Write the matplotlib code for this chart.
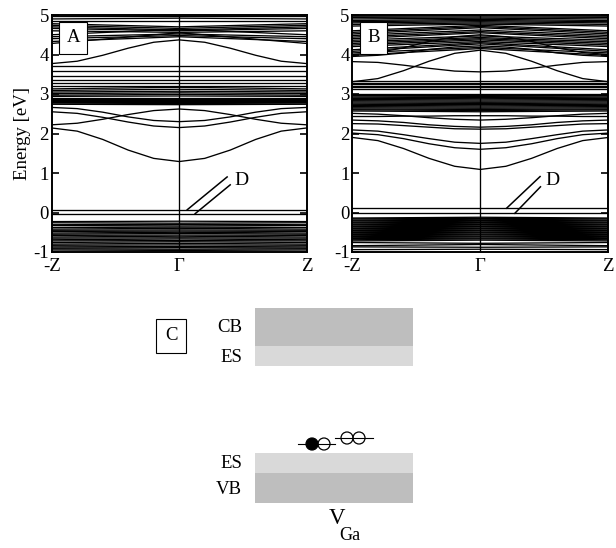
import matplotlib
matplotlib.use("Agg")
import matplotlib.pyplot as plt
from matplotlib.patches import Rectangle, Circle
import numpy as np

plt.rcParams['font.family'] = ['Liberation Serif', 'DejaVu Serif']
plt.rcParams['mathtext.fontset'] = 'stix'

# ---------------- data ----------------
K_FINE = [0.0, 0.2, 0.4, 0.6, 0.8, 1.0]     # |k| from Gamma to Z
K_LABELS = ['-Z', 'Γ', 'Z']
Y_TICKS = [-1, 0, 1, 2, 3, 4, 5]

# Panel A dispersive bands (values at K_FINE)
A_disp = [
    [1.29, 1.37, 1.58, 1.85, 2.06, 2.14],
    [2.62, 2.58, 2.48, 2.36, 2.26, 2.22],
    [2.30, 2.33, 2.42, 2.54, 2.63, 2.66],
    [2.15, 2.19, 2.29, 2.41, 2.51, 2.55],
    [4.37, 4.31, 4.16, 3.98, 3.83, 3.77],
]
# Panel A bundled bands: energy at Gamma / at Z
A_gam = [4.97, 4.92, 4.84, 4.70, 4.66, 4.62, 4.60, 4.56, 4.52, 4.48, 4.45, 4.55, 4.64,
         3.71, 3.57, 3.45, 3.36, 3.28, 3.20,
         3.17, 3.12, 3.07, 3.03, 2.99, 2.95, 2.91, 2.88, 2.85, 2.82, 2.79, 2.76, 2.73,
         0.07, -0.03,
         -0.22, -0.27, -0.30, -0.34, -0.37, -0.40, -0.44, -0.47, -0.50, -0.53, -0.57,
         -0.60, -0.64, -0.67, -0.71, -0.74, -0.78, -0.82, -0.86, -0.89, -0.93, -0.96]
A_z = [4.97, 4.90, 4.84, 4.78, 4.74, 4.70, 4.66, 4.60, 4.45, 4.40, 4.33, 4.28, 4.50,
       3.71, 3.57, 3.45, 3.36, 3.28, 3.20,
       3.13, 3.09, 3.05, 3.01, 2.97, 2.94, 2.91, 2.88, 2.85, 2.82, 2.79, 2.77, 2.74,
       0.07, -0.03,
       -0.23, -0.26, -0.31, -0.33, -0.38, -0.42, -0.45, -0.48, -0.52, -0.55, -0.58,
       -0.62, -0.65, -0.69, -0.72, -0.76, -0.80, -0.83, -0.87, -0.90, -0.92, -0.95]

# Panel B dispersive bands
B_disp = [
    [1.09, 1.17, 1.37, 1.62, 1.82, 1.90],
    [1.60, 1.64, 1.74, 1.87, 1.97, 2.01],
    [1.75, 1.78, 1.87, 1.97, 2.06, 2.09],
    [2.11, 2.12, 2.16, 2.20, 2.24, 2.25],
    [2.16, 2.18, 2.22, 2.28, 2.32, 2.34],
    [2.34, 2.36, 2.40, 2.45, 2.49, 2.51],
    [2.45, 2.45, 2.44, 2.44, 2.43, 2.43],
    [4.11, 4.03, 3.83, 3.59, 3.39, 3.31],
    [3.56, 3.58, 3.65, 3.73, 3.80, 3.82],
    [4.50, 4.45, 4.33, 4.17, 4.05, 4.00],
    [4.22, 4.19, 4.13, 4.04, 3.98, 3.95],
]
B_gam = [4.98, 4.95, 4.92, 4.89, 4.86, 4.83, 4.80, 4.77, 4.74, 4.71, 4.68, 4.62, 4.58,
         4.55, 4.47, 4.43, 4.40, 4.37, 4.33, 4.30, 4.27, 4.18, 4.15,
         3.33, 3.29, 3.25, 3.21, 3.17, 3.12,
         3.00, 2.97, 2.94, 2.91, 2.88, 2.85, 2.82, 2.79, 2.76, 2.73, 2.70, 2.67, 2.64,
         2.61, 2.58, 2.55,
         0.11, -0.02,
         -0.12, -0.15, -0.17, -0.20, -0.22, -0.25, -0.27, -0.30, -0.32, -0.35, -0.37,
         -0.40, -0.42, -0.45, -0.47, -0.50, -0.52, -0.55, -0.57, -0.60, -0.62, -0.65,
         -0.67, -0.70, -0.78, -0.81, -0.88, -0.93]
B_z = [4.97, 4.94, 4.90, 4.86, 4.83, 4.80, 4.76, 4.72, 4.60, 4.56, 4.52, 4.48, 4.44,
       4.40, 4.36, 4.32, 4.28, 4.24, 4.20, 4.12, 4.08, 4.04, 3.98,
       3.33, 3.29, 3.25, 3.21, 3.17, 3.12,
       3.00, 2.97, 2.95, 2.92, 2.89, 2.86, 2.83, 2.80, 2.77, 2.74, 2.71, 2.68, 2.65,
       2.62, 2.60, 2.57,
       0.11, -0.02,
       -0.14, -0.16, -0.19, -0.21, -0.24, -0.26, -0.29, -0.31, -0.34, -0.36, -0.39,
       -0.41, -0.44, -0.46, -0.49, -0.51, -0.54, -0.56, -0.59, -0.61, -0.64, -0.66,
       -0.69, -0.72, -0.76, -0.84, -0.87, -0.94]

# "D" pointer lines: (k_start, E_start, k_end, E_end) for two lines, label position
A_D_lines = [(0.063, 0.07, 0.376, 0.90), (0.125, -0.03, 0.40, 0.70)]
A_D_label = (0.43, 0.82)
B_D_lines = [(0.206, 0.11, 0.467, 0.91), (0.27, -0.02, 0.47, 0.65)]
B_D_label = (0.51, 0.82)

# Schematic (panel C), figure pixel coordinates (x0, x1, y_top, y_bottom)
C_levels = {
    'CB':  (255, 413, 308, 346, '#bebebe'),
    'ES1': (255, 413, 346, 366, '#d9d9d9'),
    'ES2': (255, 413, 453, 473, '#d9d9d9'),
    'VB':  (255, 413, 473, 503, '#bebebe'),
}
C_labels = [('CB', 242, 327), ('ES', 242, 357), ('ES', 242, 464), ('VB', 242, 490)]
# defect levels: (x0, x1, y), circles: (x, y, filled)
C_def_lines = [(298, 335, 444), (335, 373, 438)]
C_circles = [(312, 444, True), (324, 444, False), (347, 438, False), (359, 438, False)]

# ---------------- figure ----------------
W, H = 616, 548
fig = plt.figure(figsize=(W / 100, H / 100), dpi=100)

LW = 0.95
FS = 13.5


def band_panel(rect, disp, gam, z, label, dlines, dlab, ylabel=False):
    ax = fig.add_axes(rect)
    kf = np.array(K_FINE)
    kk = np.concatenate([-kf[::-1], kf[1:]])
    for b in disp:
        b = np.array(b)
        ax.plot(kk, np.concatenate([b[::-1], b[1:]]), color='k', lw=LW)
    for eg, ez in zip(gam, z):
        ax.plot([-1, 0, 1], [ez, eg, ez], color='k', lw=LW)
    ax.axvline(0, color='k', lw=LW)
    ax.set_xlim(-1, 1)
    ax.set_ylim(-1, 5)
    ax.set_yticks(Y_TICKS)
    ax.set_yticklabels([str(t) for t in Y_TICKS])
    ax.set_xticks([-1, 0, 1])
    ax.set_xticklabels(K_LABELS)
    ax.tick_params(axis='y', direction='in', left=True, right=True, length=5,
                   width=1.2, labelsize=FS, pad=2)
    ax.tick_params(axis='x', length=0, labelsize=FS, pad=4)
    for s in ax.spines.values():
        s.set_linewidth(1.4)
    ax.text(0.058, 0.94, label, transform=ax.transAxes, fontsize=FS, ha='left',
            va='top', zorder=10,
            bbox=dict(boxstyle='square,pad=0.4', fc='white', ec='k', lw=0.8))
    for (k0, e0, k1, e1) in dlines:
        ax.plot([k0, k1], [e0, e1], color='k', lw=1.1, zorder=5)
    ax.text(dlab[0], dlab[1], 'D', fontsize=FS + 0.5, ha='left', va='center', zorder=6)
    if ylabel:
        ax.set_ylabel('Energy [eV]', fontsize=FS, labelpad=2)
    return ax


axA = band_panel([51.7 / W, 1 - 252 / H, 255 / W, 237 / H], A_disp, A_gam, A_z, 'A',
                 A_D_lines, A_D_label, ylabel=True)
axB = band_panel([352.3 / W, 1 - 252 / H, 256 / W, 237 / H], B_disp, B_gam, B_z, 'B',
                 B_D_lines, B_D_label)

# schematic panel in pixel coordinates
axC = fig.add_axes([0, 0, 1, 1], zorder=-1)
axC.set_xlim(0, W)
axC.set_ylim(H, 0)
axC.axis('off')
for key, (x0, x1, yt, yb, col) in C_levels.items():
    axC.add_patch(Rectangle((x0, yt), x1 - x0, yb - yt, facecolor=col, edgecolor='none'))
for txt, x, y in C_labels:
    axC.text(x, y, txt, fontsize=FS, ha='right', va='center')
axC.text(171, 336, 'C', fontsize=FS, ha='center', va='center',
         bbox=dict(boxstyle='square,pad=0.45', fc='white', ec='k', lw=0.8))
for x0, x1, y in C_def_lines:
    axC.plot([x0, x1], [y, y], color='k', lw=0.8)
for x, y, filled in C_circles:
    axC.add_patch(Circle((x, y), 6, facecolor='k' if filled else 'none',
                         edgecolor='k', lw=0.9, zorder=3))
axC.text(337, 518, 'V', fontsize=16.5, ha='center', va='center')
axC.text(350, 536, 'Ga', fontsize=13, ha='center', va='center')

fig.savefig('out.png', dpi=100)
